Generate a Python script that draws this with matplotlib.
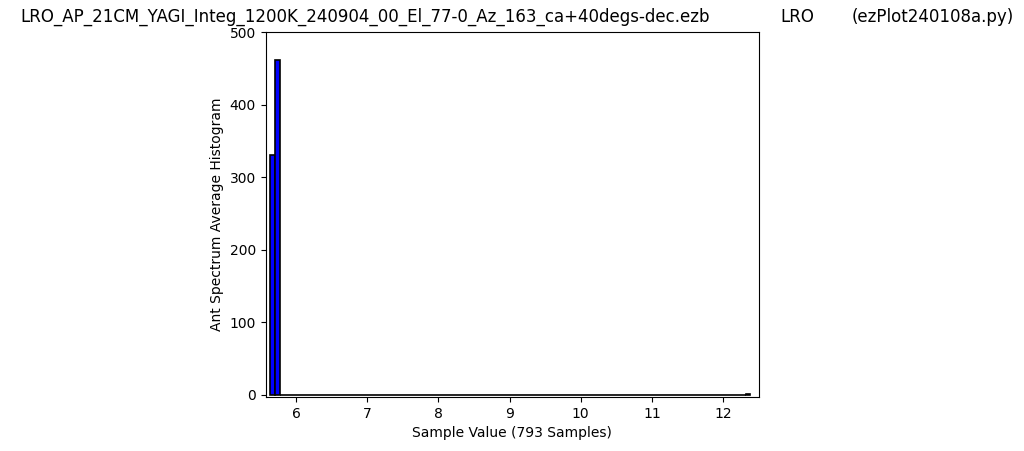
import numpy as np
import matplotlib.pyplot as plt

# histogram: 100 bins, 793 samples
bin_lo = 5.635
bin_hi = 12.385
nbins = 100
counts = [330, 462] + [0] * 97 + [1]

fileName = "LRO_AP_21CM_YAGI_Integ_1200K_240904_00_El_77-0_Az_163_ca+40degs-dec.ezb"
station = "LRO"
progName = "(ezPlot240108a.py)"

edges = np.linspace(bin_lo, bin_hi, nbins + 1)
centers = (edges[:-1] + edges[1:]) / 2

fig = plt.figure(figsize=(10.24, 4.51), dpi=100)
ax = fig.add_axes([0.2595, 0.120, 0.4815, 0.809])
ax.hist(centers, bins=edges, weights=counts, color="blue", edgecolor="black", linewidth=1.2)

ax.set_xlim(5.574, 12.502)
ax.set_ylim(-3, 500)
ax.set_xlabel("Sample Value (%d Samples)" % sum(counts), fontsize=10)
ax.set_ylabel("Ant Spectrum Average Histogram", fontsize=10)
ax.tick_params(labelsize=10)

# title line across the top
fig.text(20 / 1024, 1 - 17 / 451, fileName, fontsize=12, va="center", ha="left")
fig.text(780 / 1024, 1 - 17 / 451, station, fontsize=12, va="center", ha="left")
fig.text(852 / 1024, 1 - 17 / 451, progName, fontsize=12, va="center", ha="left")

plt.savefig("out.png", dpi=100)
